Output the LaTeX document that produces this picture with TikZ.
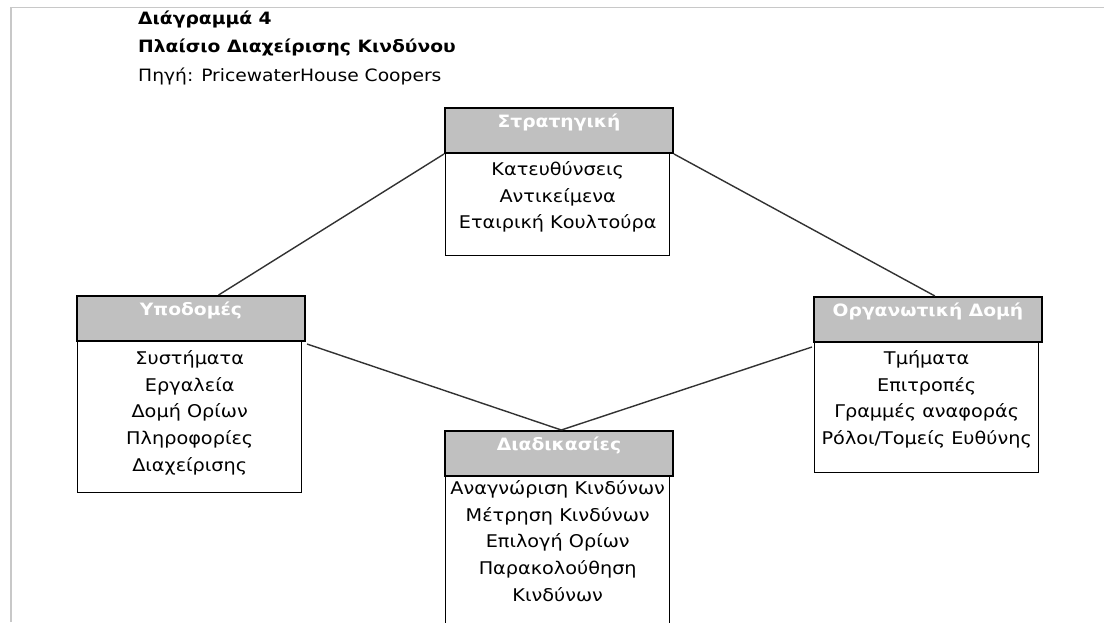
\documentclass[tikz,border=0pt]{standalone}
\usepackage{fontspec}
\setmainfont{DejaVu Sans}[FakeStretch=1.1]
\usetikzlibrary{calc}
\definecolor{hdrgray}{RGB}{192,192,192}
\definecolor{framegray}{RGB}{200,200,200}
\definecolor{linkgray}{RGB}{50,50,50}
\tikzset{
  hdrbox/.style={draw=black, line width=2pt, fill=hdrgray, minimum width=228pt, minimum height=45pt, anchor=north west, inner sep=0pt},
  bodybox/.style={draw=black, line width=1.4pt, fill=white, anchor=north west, inner sep=0pt},
  hdrtext/.style={text=white, font=\fontsize{17}{20}\selectfont\bfseries, anchor=center, inner sep=0pt},
  bodytext/.style={font=\fontsize{17.5}{26.8}\selectfont, align=center, anchor=north, inner sep=0pt},
  titletext/.style={anchor=west, inner sep=0pt, font=\fontsize{17}{20}\selectfont},
  link/.style={draw=linkgray, line width=1.4pt}
}
\begin{document}
\begin{tikzpicture}[x=1pt, y=-1pt]
\useasboundingbox (0,0) rectangle (1104,622);
\clip (0,0) rectangle (1104,622);
\fill[white] (0,0) rectangle (1104,622);
% page frame
\draw[framegray, line width=1.5pt] (11,622) -- (11,7.5) -- (1104,7.5);

% title block
\node[titletext, font=\fontsize{17}{20}\selectfont\bfseries] (t1) at (138,19) {Διάγραμμά 4};
\node[titletext, font=\fontsize{17}{20}\selectfont\bfseries] (t2) at (138,47) {Πλαίσιο Διαχείρισης Κινδύνου};
\node[titletext] (t3) at (138,76) {Πηγή: PricewaterHouse Coopers};

% Strategy
\node[bodybox, minimum width=224pt, minimum height=104pt] (sb) at (445,151) {};
\node[hdrbox] (sh) at (444,107) {};
\node[hdrtext] (sht) at ($(sh.north)+(0,15)$) {Στρατηγική};
\node[bodytext] (sbt) at ($(sb.north)+(0,10)$) {Κατευθύνσεις\\Αντικείμενα\\Εταιρική Κουλτούρα};

% Infrastructure
\node[bodybox, minimum width=224pt, minimum height=152pt] (lb) at (77,340) {};
\node[hdrbox] (lh) at (76,295) {};
\node[hdrtext] (lht) at ($(lh.north)+(0,15)$) {Υποδομές};
\node[bodytext] (lbt) at ($(lb.north)+(0,10)$) {Συστήματα\\Εργαλεία\\Δομή Ορίων\\Πληροφορίες\\Διαχείρισης};

% Organisational structure
\node[bodybox, minimum width=224pt, minimum height=132pt] (rb) at (814,340) {};
\node[hdrbox] (rh) at (813,296) {};
\node[hdrtext] (rht) at ($(rh.north)+(0,15)$) {Οργανωτική Δομή};
\node[bodytext] (rbt) at ($(rb.north)+(0,10)$) {Τμήματα\\Επιτροπές\\Γραμμές αναφοράς\\Ρόλοι/Τομείς Ευθύνης};

% Processes
\node[bodybox, minimum width=224pt, minimum height=200pt] (bb) at (445,474) {};
\node[hdrbox] (bh) at (444,430) {};
\node[hdrtext] (bht) at ($(bh.north)+(0,15)$) {Διαδικασίες};
\node[bodytext] (bbt) at ($(bb.north)+(0,6)$) {Αναγνώριση Κινδύνων\\Μέτρηση Κινδύνων\\Επιλογή Ορίων\\Παρακολούθηση\\Κινδύνων};

% connectors
\coordinate (lin) at ($(lh.north west)!0.62!(lh.north east)$);
\coordinate (rin) at ($(rh.north west)!0.53!(rh.north east)$);
\coordinate (bin) at ($(bh.north west)!0.51!(bh.north east)$);
\draw[link] (sh.south west) -- (lin);
\draw[link] (sh.south east) -- (rin);
\draw[link] ($(lh.south east)+(1,2)$) -- (bin);
\draw[link] ($(rh.south west)+(-1,4)$) -- (bin);
\end{tikzpicture}
\end{document}
